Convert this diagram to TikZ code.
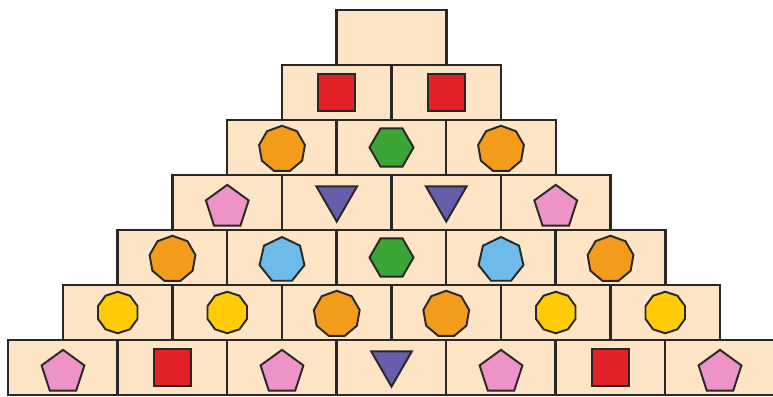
\documentclass[tikz,border=0pt]{standalone}
\usetikzlibrary{shapes.geometric}
\definecolor{sand}{RGB}{252,228,196}
\definecolor{edge}{RGB}{40,40,40}
\definecolor{tomato}{RGB}{226,34,39}
\definecolor{amber}{RGB}{243,156,27}
\definecolor{leaf}{RGB}{59,166,54}
\definecolor{gold}{RGB}{255,203,5}
\definecolor{sky}{RGB}{109,187,232}
\definecolor{rose}{RGB}{238,147,197}
\definecolor{grape}{RGB}{104,93,170}
\tikzset{
  brick/.style={draw=edge, fill=sand, line width=1.8pt, minimum width=1.095in, minimum height=0.55in, inner sep=0pt},
  piece/.style={draw=edge, line width=1.4pt, inner sep=0pt, regular polygon},
  sq/.style={piece, fill=tomato, regular polygon sides=4, minimum size=0.523in},
  penta/.style={piece, fill=rose, regular polygon sides=5, minimum size=0.45in, yshift=-3.5pt},
  tri/.style={piece, fill=grape, regular polygon sides=3, minimum size=0.47in, shape border rotate=180, yshift=3.2pt},
  hexa/.style={piece, fill=leaf, regular polygon sides=6, minimum size=0.44in},
  hepta/.style={piece, fill=sky, regular polygon sides=7, minimum size=0.46in, yshift=-1.8pt},
  nona/.style={piece, fill=amber, regular polygon sides=9, minimum size=0.465in, yshift=-1.1pt},
  deca/.style={piece, fill=gold, regular polygon sides=10, minimum size=0.415in, shape border rotate=18}
}

\begin{document}
\begin{tikzpicture}[x=0.01in,y=-0.01in]
\useasboundingbox (0,0) rectangle (773,396);
% bricks, top row first
\node[brick] (b11) at (391.5,37.5) {};
\node[brick] (b21) at (336.75,92.5) {};
\node[brick] (b22) at (446.25,92.5) {};
\node[brick] (b31) at (282,147.5) {};
\node[brick] (b32) at (391.5,147.5) {};
\node[brick] (b33) at (501,147.5) {};
\node[brick] (b41) at (227.25,202.5) {};
\node[brick] (b42) at (336.75,202.5) {};
\node[brick] (b43) at (446.25,202.5) {};
\node[brick] (b44) at (555.75,202.5) {};
\node[brick] (b51) at (172.5,257.5) {};
\node[brick] (b52) at (282,257.5) {};
\node[brick] (b53) at (391.5,257.5) {};
\node[brick] (b54) at (501,257.5) {};
\node[brick] (b55) at (610.5,257.5) {};
\node[brick] (b61) at (117.75,312.5) {};
\node[brick] (b62) at (227.25,312.5) {};
\node[brick] (b63) at (336.75,312.5) {};
\node[brick] (b64) at (446.25,312.5) {};
\node[brick] (b65) at (555.75,312.5) {};
\node[brick] (b66) at (665.25,312.5) {};
\node[brick] (b71) at (63,367.5) {};
\node[brick] (b72) at (172.5,367.5) {};
\node[brick] (b73) at (282,367.5) {};
\node[brick] (b74) at (391.5,367.5) {};
\node[brick] (b75) at (501,367.5) {};
\node[brick] (b76) at (610.5,367.5) {};
\node[brick] (b77) at (720,367.5) {};
% pieces
\node[sq] (s21) at (b21) {};
\node[sq] (s22) at (b22) {};
\node[nona] (s31) at (b31) {};
\node[hexa] (s32) at (b32) {};
\node[nona] (s33) at (b33) {};
\node[penta] (s41) at (b41) {};
\node[tri] (s42) at (b42) {};
\node[tri] (s43) at (b43) {};
\node[penta] (s44) at (b44) {};
\node[nona] (s51) at (b51) {};
\node[hepta] (s52) at (b52) {};
\node[hexa] (s53) at (b53) {};
\node[hepta] (s54) at (b54) {};
\node[nona] (s55) at (b55) {};
\node[deca] (s61) at (b61) {};
\node[deca] (s62) at (b62) {};
\node[nona] (s63) at (b63) {};
\node[nona] (s64) at (b64) {};
\node[deca] (s65) at (b65) {};
\node[deca] (s66) at (b66) {};
\node[penta] (s71) at (b71) {};
\node[sq] (s72) at (b72) {};
\node[penta] (s73) at (b73) {};
\node[tri] (s74) at (b74) {};
\node[penta] (s75) at (b75) {};
\node[sq] (s76) at (b76) {};
\node[penta] (s77) at (b77) {};
\end{tikzpicture}
\end{document}
